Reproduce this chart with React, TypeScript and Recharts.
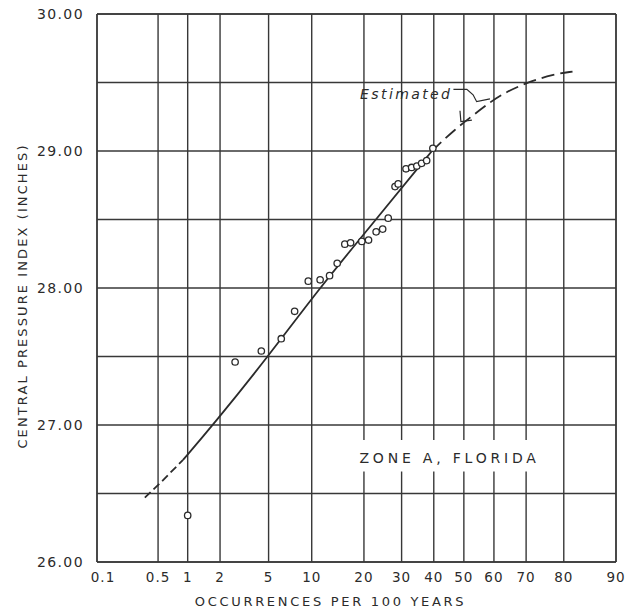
import React from "react";
import {
  CartesianGrid,
  ComposedChart,
  Line,
  ReferenceArea,
  ReferenceDot,
  ReferenceLine,
  Scatter,
  XAxis,
  YAxis,
} from "recharts";

// Zone A, Florida — central pressure index against occurrences per 100
// years, plotted on normal-probability paper (x is the probit of pct/100).

const INK = "#2b2b2b";
const GRID = "#383838";
const FONT = "'DejaVu Sans', Verdana, sans-serif";

const pctTicks = [0.1, 0.5, 1, 2, 5, 10, 20, 30, 40, 50, 60, 70, 80, 90];
const pctLabels = ["0.1", "0.5", "1", "2", "5", "10", "20", "30", "40", "50", "60", "70", "80", "90"];
const pressureTicks = [26, 26.5, 27, 27.5, 28, 28.5, 29, 29.5, 30];

// observed storms
const obsPct = [
  1.0, 2.7, 4.4, 6.2, 7.7, 9.5, 11.3, 12.9, 14.3, 15.8, 17.0, 19.5, 21.1,
  23.0, 24.7, 26.2, 28.1, 29.0, 31.3, 33.0, 34.6, 36.1, 37.7, 39.7,
];
const obsPressure = [
  26.34, 27.46, 27.54, 27.63, 27.83, 28.05, 28.06, 28.09, 28.18, 28.32, 28.33,
  28.34, 28.35, 28.41, 28.43, 28.51, 28.74, 28.76, 28.87, 28.88, 28.89, 28.91,
  28.93, 29.02,
];

// fitted curve: dashed low end, solid middle, dashed "estimated" top
const lowPct = [0.36, 0.55, 0.9];
const lowPressure = [26.47, 26.59, 26.745];
const fitPct = [0.9, 1.73, 4.96, 11.2, 22.96, 39.4];
const fitPressure = [26.745, 27.0, 27.5, 28.0, 28.5, 29.0];
const estPct = [39.4, 46.5, 55.4, 62, 70.2, 77.5, 82];
const estPressure = [29.0, 29.15, 29.3, 29.41, 29.5, 29.56, 29.58];

// "Estimated" leader bracket
const leaderPct = [46.5, 51.0, 53.1, 54.3, 58.7];
const leaderPressure = [29.45, 29.45, 29.41, 29.36, 29.38];
const hookPct = [48.7, 49.0, 52.7];
const hookPressure = [29.294, 29.214, 29.226];

// Acklam's inverse normal CDF
function probit(p: number): number {
  const a = [-39.69683028665376, 220.9460984245205, -275.9285104469687, 138.357751867269, -30.66479806614716, 2.506628277459239];
  const b = [-54.47609879822406, 161.5858368580409, -155.6989798598866, 66.80131188771972, -13.28068155288572];
  const c = [-0.007784894002430293, -0.3223964580411365, -2.400758277161838, -2.549732539343734, 4.374664141464968, 2.938163982698783];
  const d = [0.007784695709041462, 0.3224671290700398, 2.445134137142996, 3.754408661907416];
  const pl = 0.02425;
  if (p < pl) {
    const q = Math.sqrt(-2 * Math.log(p));
    return (((((c[0] * q + c[1]) * q + c[2]) * q + c[3]) * q + c[4]) * q + c[5]) /
      ((((d[0] * q + d[1]) * q + d[2]) * q + d[3]) * q + 1);
  }
  if (p > 1 - pl) {
    const q = Math.sqrt(-2 * Math.log(1 - p));
    return -(((((c[0] * q + c[1]) * q + c[2]) * q + c[3]) * q + c[4]) * q + c[5]) /
      ((((d[0] * q + d[1]) * q + d[2]) * q + d[3]) * q + 1);
  }
  const q = p - 0.5;
  const r = q * q;
  return ((((((a[0] * r + a[1]) * r + a[2]) * r + a[3]) * r + a[4]) * r + a[5]) * q) /
    (((((b[0] * r + b[1]) * r + b[2]) * r + b[3]) * r + b[4]) * r + 1);
}

const zOf = (pct: number) => probit(pct / 100);
const pts = (xs: number[], ys: number[]) => xs.map((x, i) => ({ z: zOf(x), p: ys[i] }));

const obsData = pts(obsPct, obsPressure);
const lowData = pts(lowPct, lowPressure);
const fitData = pts(fitPct, fitPressure);
const estData = pts(estPct, estPressure);
const leaderData = pts(leaderPct, leaderPressure);
const hookData = pts(hookPct, hookPressure);

const xTicks = pctTicks.map(zOf);
const zMin = xTicks[0];
const zMax = xTicks[xTicks.length - 1];

function XTick(props: any) {
  const { x, y, index } = props;
  const dx = index === 0 ? 6 : 0;
  return (
    <text
      x={x + dx}
      y={y}
      dy={14}
      textAnchor="middle"
      fontFamily={FONT}
      fontSize={13.5}
      letterSpacing={1}
      fill={INK}
    >
      {pctLabels[index]}
    </text>
  );
}

function YTick(props: any) {
  const { x, y, payload } = props;
  const v = payload.value as number;
  if (v % 1 !== 0) return <g />;
  return (
    <text
      x={x}
      y={y}
      dy="0.36em"
      textAnchor="end"
      fontFamily={FONT}
      fontSize={14}
      letterSpacing={1.4}
      fill={INK}
    >
      {v.toFixed(2)}
    </text>
  );
}

function XTitle(props: any) {
  const vb = props.viewBox ?? {};
  return (
    <text
      x={vb.x + vb.width / 2 - 26}
      y={vb.y + 44}
      textAnchor="middle"
      fontFamily={FONT}
      fontSize={13}
      letterSpacing={2.7}
      fill={INK}
    >
      OCCURRENCES PER 100 YEARS
    </text>
  );
}

function YTitle(props: any) {
  const vb = props.viewBox ?? {};
  const cx = vb.x + 22;
  const cy = vb.y + vb.height / 2 + 8;
  return (
    <text
      x={cx}
      y={cy}
      transform={`rotate(-90 ${cx} ${cy})`}
      textAnchor="middle"
      dominantBaseline="central"
      fontFamily={FONT}
      fontSize={13}
      letterSpacing={2.1}
      fill={INK}
    >
      CENTRAL PRESSURE INDEX (INCHES)
    </text>
  );
}

function Ring(props: any) {
  const { cx, cy } = props;
  if (cx == null || cy == null) return <g />;
  return <circle cx={cx} cy={cy} r={3.2} fill="#fff" stroke={INK} strokeWidth={1.3} />;
}

export default function App() {
  return (
    <div style={{ position: "absolute", left: 0, top: 0, width: 627, height: 611, background: "#fff" }}>
      <ComposedChart width={627} height={611} margin={{ top: 14, right: 11, bottom: 0, left: 0 }}>
        <CartesianGrid stroke={GRID} strokeWidth={1.4} />
        <XAxis
          type="number"
          dataKey="z"
          domain={[zMin, zMax]}
          ticks={xTicks}
          interval={0}
          allowDataOverflow
          height={49}
          tickLine={false}
          tickSize={0}
          tickMargin={6}
          axisLine={{ stroke: GRID, strokeWidth: 1.4 }}
          tick={(p: any) => <XTick {...p} />}
          label={<XTitle />}
        />
        <YAxis
          type="number"
          dataKey="p"
          domain={[26, 30]}
          ticks={pressureTicks}
          interval={0}
          allowDataOverflow
          width={97}
          tickLine={false}
          tickSize={0}
          tickMargin={13}
          axisLine={{ stroke: GRID, strokeWidth: 1.4 }}
          tick={(p: any) => <YTick {...p} />}
          label={<YTitle />}
        />
        <ReferenceLine y={30} stroke={GRID} strokeWidth={1.4} />
        <ReferenceLine x={zMax} stroke={GRID} strokeWidth={1.4} />
        <ReferenceArea
          x1={zOf(18)}
          x2={zOf(75)}
          y1={26.66}
          y2={26.89}
          fill="#fff"
          fillOpacity={1}
          stroke="none"
        />
        <ReferenceDot
          x={zOf(45.2)}
          y={26.72}
          r={0}
          shape={(p: any) => (
            <text
              x={p.cx}
              y={p.cy}
              textAnchor="middle"
              fontFamily={FONT}
              fontSize={14}
              letterSpacing={3.8}
              fill={INK}
            >
              ZONE A, FLORIDA
            </text>
          )}
        />
        <ReferenceDot
          x={zOf(19.1)}
          y={29.38}
          r={0}
          shape={(p: any) => (
            <text
              x={p.cx}
              y={p.cy}
              textAnchor="start"
              fontFamily={FONT}
              fontStyle="italic"
              fontSize={14}
              letterSpacing={2.4}
              fill={INK}
            >
              Estimated
            </text>
          )}
        />
        <Line
          data={lowData}
          dataKey="p"
          type="linear"
          stroke={INK}
          strokeWidth={1.8}
          strokeDasharray="8 4"
          dot={false}
          isAnimationActive={false}
        />
        <Line
          data={fitData}
          dataKey="p"
          type="basis"
          stroke={INK}
          strokeWidth={1.8}
          dot={false}
          isAnimationActive={false}
        />
        <Line
          data={estData}
          dataKey="p"
          type="basis"
          stroke={INK}
          strokeWidth={1.8}
          strokeDasharray="13 6"
          dot={false}
          isAnimationActive={false}
        />
        <Line
          data={leaderData}
          dataKey="p"
          type="linear"
          stroke={INK}
          strokeWidth={1.2}
          dot={false}
          isAnimationActive={false}
        />
        <Line
          data={hookData}
          dataKey="p"
          type="linear"
          stroke={INK}
          strokeWidth={1.2}
          dot={false}
          isAnimationActive={false}
        />
        <Scatter data={obsData} dataKey="p" shape={<Ring />} isAnimationActive={false} />
      </ComposedChart>
    </div>
  );
}
